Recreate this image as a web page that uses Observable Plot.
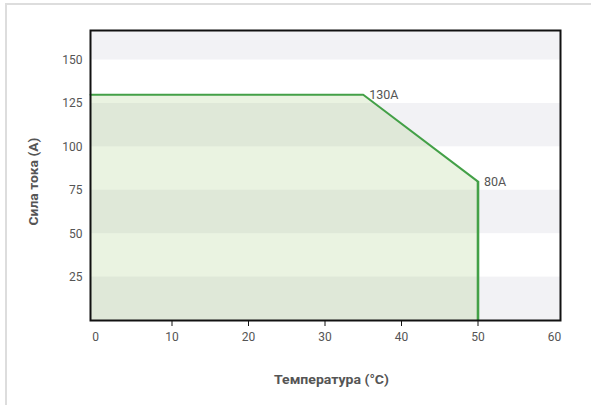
<!DOCTYPE html>
<html>
<head>
<meta charset="utf-8">
<script src="https://cdn.jsdelivr.net/npm/d3@7"></script>
<script src="https://cdn.jsdelivr.net/npm/@observablehq/plot@0.6"></script>
<style>
  html, body { margin: 0; padding: 0; background: #fff; width: 591px; height: 405px; overflow: hidden; }
  #frame { position: absolute; left: 5px; top: 3px; width: 700px; height: 500px;
           border-left: 2px solid #dddddd; border-top: 2px solid #dddddd; }
  #chart { position: absolute; left: 0; top: 0; }
  #chart svg { font-family: Roboto, "Liberation Sans", sans-serif; }
</style>
</head>
<body>
<div id="frame"></div>
<div id="chart"></div>
<script>
// Data
const temperature = [-0.65, 35, 50];  // °C (curve starts at the plot's left edge)
const current = [130, 130, 80];       // A
const pointLabels = ["", "130A", "80A"];
const xTickLabels = [0, 10, 20, 30, 40, 50, 60];
const xTickMarks = [10, 20, 30, 40, 50];
const yTicks = [25, 50, 75, 100, 125, 150];
const yMax = 167;
const xLabel = "Температура (°C)";
const yLabel = "Сила тока (А)";

const curve = temperature.map((t, i) => ({t, a: current[i], label: pointLabels[i]}));
// Alternating horizontal bands between y ticks (gray on 0-25, 50-75, 100-125, 150-top)
const bounds = [0, ...yTicks, yMax];
const bands = [];
for (let i = 0; i < bounds.length - 1; i += 2) bands.push({y1: bounds[i], y2: bounds[i + 1]});

const lastT = temperature[temperature.length - 1];
const lastA = current[current.length - 1];

const chart = Plot.plot({
  width: 591,
  height: 405,
  marginLeft: 90,
  marginRight: 31,
  marginTop: 30,
  marginBottom: 85,
  style: {fontSize: "12px", color: "#555", background: "transparent"},
  x: {domain: [0, 60], insetLeft: 5, insetRight: 6},
  y: {domain: [0, yMax]},
  marks: [
    Plot.rectY(bands, {y1: "y1", y2: "y2", fill: "#f2f2f5"}),
    Plot.areaY(curve, {x: "t", y: "a", fill: "#7cb342", fillOpacity: 0.16}),
    Plot.line(curve, {x: "t", y: "a", stroke: "#43a047", strokeWidth: 2}),
    Plot.ruleX([lastT], {y1: 0, y2: lastA, stroke: "#43a047", strokeWidth: 2.6}),
    Plot.text(curve, {x: "t", y: "a", text: "label", textAnchor: "start", dx: 6, dy: 0, fill: "#555", fontSize: 12.5}),
    Plot.frame({stroke: "#111", strokeWidth: 2}),
    Plot.axisX({ticks: xTickMarks, tickSize: 6, stroke: "#111", text: null, label: null}),
    Plot.axisX({ticks: xTickLabels, tickSize: 0, tickPadding: 12, tickFormat: d3.format("d"),
      label: xLabel, labelAnchor: "center", labelArrow: "none", labelOffset: 63}),
    Plot.axisY({ticks: yTicks, tickSize: 0, tickPadding: 8,
      label: yLabel, labelAnchor: "center", labelArrow: "none", labelOffset: 62})
  ]
});
document.getElementById("chart").appendChild(chart);
// Style axis titles: bold condensed look
const styleLabel = (sel, len, shift) => {
  const g = d3.select(chart).select(sel);
  g.attr("transform", ((g.attr("transform") || "") + " " + shift).trim());
  g.selectAll("text")
    .style("font-family", "Roboto, 'Liberation Sans', sans-serif")
    .style("font-weight", "bold")
    .style("font-size", "13.5px")
    .style("fill", "#555")
    .attr("textLength", len)
    .attr("lengthAdjust", "spacingAndGlyphs");
};
styleLabel("g[aria-label='x-axis label']", 115, "translate(6,0)");
styleLabel("g[aria-label='y-axis label']", 88, "translate(0,6)");
</script>
</body>
</html>
